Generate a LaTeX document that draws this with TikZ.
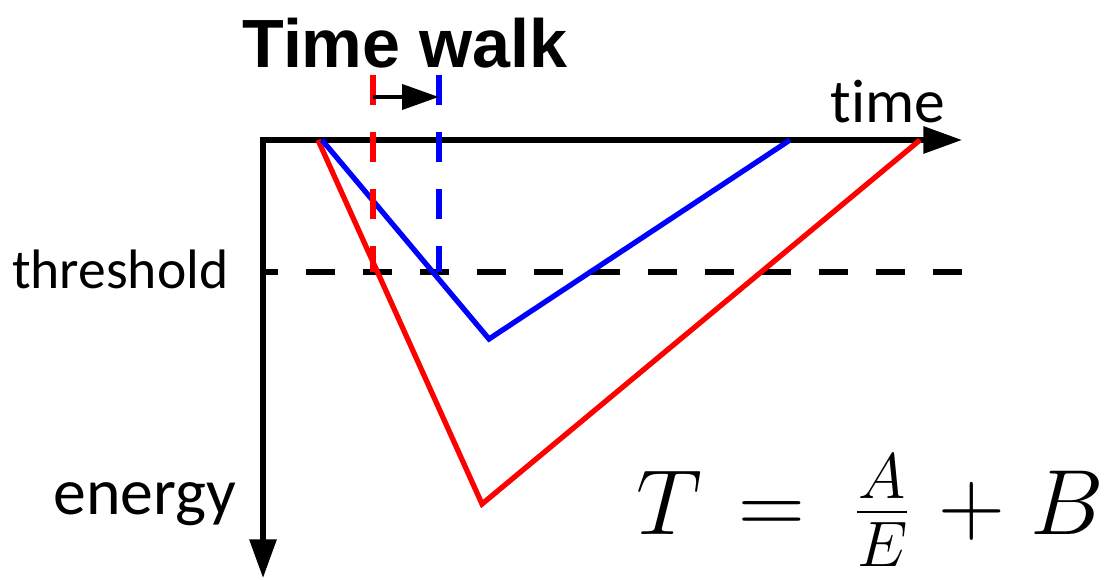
\documentclass[tikz,border=0pt]{standalone}
\usepackage{fontspec}
\setmainfont{Carlito}[Ligatures=NoCommon]
\newfontfamily\headfont{Liberation Sans}
\usetikzlibrary{arrows.meta}
\tikzset{
  axisline/.style={line width=1.45pt, line join=miter, {Triangle[length=11pt,width=7.5pt]}-{Triangle[length=11pt,width=7.5pt]}},
  pulse/.style={line width=1.5pt, line join=miter},
  marker/.style={line width=1.5pt, dash pattern=on 0.3cm off 0.27cm},
  thresh/.style={line width=1.5pt, dash pattern=on 0.29cm off 0.28cm, dash phase=0.14cm},
  walkarrow/.style={-{Triangle[length=10.5pt,width=7pt]}, line width=1.4pt},
  axislabel/.style={inner sep=0pt, font=\fontsize{17.5}{20}\selectfont}
}

\begin{document}
\begin{tikzpicture}[x=0.01cm, y=-0.01cm]
  \useasboundingbox (0,0) rectangle (1110,580);
  % axes
  \coordinate (origin) at (263,140);
  \coordinate (tend) at (962,140);
  \coordinate (eend) at (263,578);
  \draw[axisline] (tend) -- (origin) -- (eend);
  \node[axislabel, anchor=base west] (tlabel) at (830,123) {time};
  \node[axislabel, anchor=base east, font=\fontsize{18.7}{21}\selectfont] (elabel) at (237,515) {energy};
  % threshold
  \coordinate (thl) at (263,272);
  \coordinate (thr) at (971,272);
  \draw[thresh] (thl) -- (thr);
  \node[axislabel, anchor=base east, font=\fontsize{15.8}{18}\selectfont] (thlabel) at (229,289) {threshold};
  % signals
  \coordinate (rstart) at (318,140);
  \coordinate (rpeak) at (482,504);
  \coordinate (rstop) at (920,140);
  \coordinate (bstart) at (322,140);
  \coordinate (bpeak) at (489,339);
  \coordinate (bstop) at (790,140);
  \draw[pulse, red] (rstart) -- (rpeak) -- (rstop);
  \draw[pulse, blue] (bstart) -- (bpeak) -- (bstop);
  % crossing markers
  \coordinate (rtop) at (373,75);
  \coordinate (rbot) at (373,272);
  \coordinate (btop) at (439,75);
  \coordinate (bbot) at (439,272);
  \draw[marker, red] (rtop) -- (rbot);
  \draw[marker, blue] (btop) -- (bbot);
  \coordinate (wfrom) at (373,97);
  \coordinate (wto) at (439,97);
  \draw[walkarrow] (wfrom) -- (wto);
  \node[anchor=base, inner sep=0pt, font=\headfont\bfseries\fontsize{19.4}{22}\selectfont] (title) at (405,68) {Time walk};
  % formula
  \node[anchor=base west, inner sep=0pt, scale=1.27, font=\huge] (formula) at (636,535)
    {$T\mkern2mu = \mkern4mu\frac{A}{E}\mkern1mu + \mkern1mu B$};
\end{tikzpicture}
\end{document}
